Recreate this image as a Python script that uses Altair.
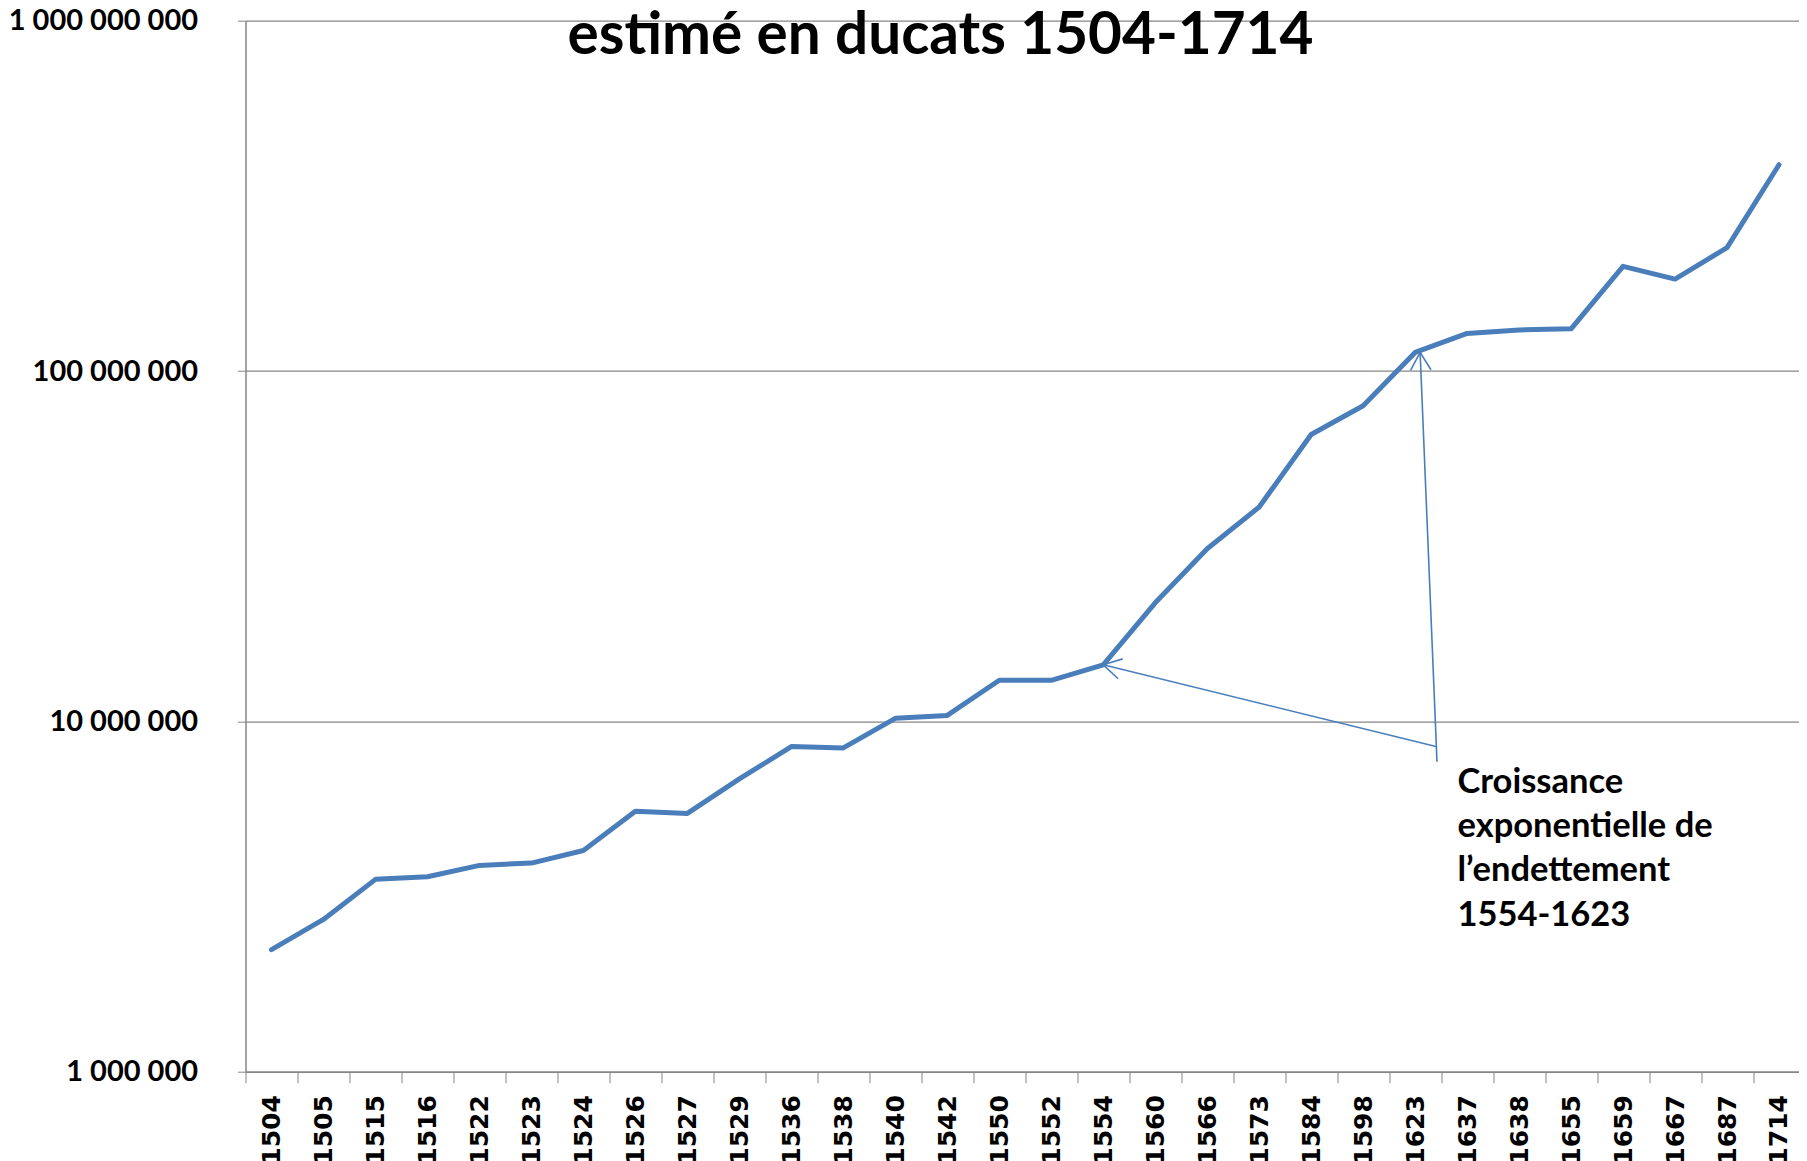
import altair as alt
import pandas as pd

years = ["1504", "1505", "1515", "1516", "1522", "1523", "1524", "1526", "1527", "1529",
         "1536", "1538", "1540", "1542", "1550", "1552", "1554", "1560", "1566", "1573",
         "1584", "1598", "1623", "1637", "1638", "1655", "1659", "1667", "1687", "1714"]
debt = [2.23e6, 2.72e6, 3.54e6, 3.60e6, 3.88e6, 3.94e6, 4.28e6, 5.54e6, 5.46e6, 6.85e6,
        8.47e6, 8.40e6, 10.2e6, 10.4e6, 13.1e6, 13.1e6, 14.5e6, 21.8e6, 31.1e6, 40.9e6,
        65.9e6, 79.6e6, 113e6, 128e6, 131e6, 132e6, 199e6, 183e6, 225e6, 388e6]
y_ticks = [1e6, 1e7, 1e8, 1e9]
title_text = ["estimé en ducats 1504-1714"]
note_text = ["Croissance\nexponentielle de\nl\u2019endettement\n1554-1623"]
arrow_years = ["1554", "1623"]
arrow_values = [14.5e6, 113e6]

BLUE = "#4A7EBB"
GRAY = "#868686"

df = pd.DataFrame({"year": years, "debt": debt})
arr = pd.DataFrame({"year": arrow_years, "debt": arrow_values})

xscale = alt.Scale(type="band", paddingInner=0, paddingOuter=0, range=[0, 1559.5])
yscale = alt.Scale(type="log", domain=[1e6, 1e9])

x_enc = alt.X("year:N", sort=years, bandPosition=0.5, scale=xscale,
              axis=alt.Axis(title=None, labelAngle=270, tickBand="extent",
                            labelFont="DejaVu Sans", labelFontWeight="bold",
                            labelFontSize=25, labelColor="black", labelPadding=12,
                            tickSize=11, tickColor=GRAY, domainColor=GRAY,
                            domainWidth=1.5, grid=False, labelLimit=0))
y_enc = alt.Y("debt:Q", scale=yscale,
              axis=alt.Axis(title=None, values=y_ticks, grid=True, gridColor=GRAY,
                            gridWidth=1.2, domainColor=GRAY, domainWidth=1.5,
                            tickColor=GRAY, tickSize=8, labelPadding=40, labelLimit=0,
                            labelFont="Lato", labelFontWeight="bold", labelFontSize=29,
                            labelColor="black",
                            labelExpr="datum.value >= 1e9 ? '1 000 000 000' : datum.value >= 1e8 ? '100 000 000' : datum.value >= 1e7 ? '10 000 000' : '1 000 000'"))

line = alt.Chart(df).mark_line(color=BLUE, strokeWidth=5, strokeCap="round",
                               strokeJoin="round").encode(x=x_enc, y=y_enc)

def xpos():
    return alt.X("year:N", sort=years, bandPosition=0.5, scale=xscale)

def ypos():
    return alt.Y("debt:Q", scale=yscale)

rule1 = alt.Chart(arr.iloc[[0]]).mark_rule(color=BLUE, strokeWidth=1.6).encode(
    x=xpos(), y=ypos(), x2=alt.value(1191.5), y2=alt.value(726))
rule2 = alt.Chart(arr.iloc[[1]]).mark_rule(color=BLUE, strokeWidth=1.6, xOffset=5).encode(
    x=xpos(), y=ypos(), x2=alt.value(1191.5), y2=alt.value(741))

head_shape = "M -1 -0.577 L 0 0 L -1 0.577"
head1 = alt.Chart(arr.iloc[[0]]).mark_point(shape=head_shape, filled=False, size=1250,
                                             strokeWidth=1.6, color=BLUE, opacity=1).encode(
    x=xpos(), y=ypos(), angle=alt.value(193))
head2 = alt.Chart(arr.iloc[[1]]).mark_point(shape=head_shape, filled=False, size=1250,
                                             strokeWidth=1.6, color=BLUE, opacity=1,
                                             xOffset=5).encode(
    x=xpos(), y=ypos(), angle=alt.value(268))

title = alt.Chart(pd.DataFrame({"t": title_text})).mark_text(
    font="Lato", fontWeight="bold", fontSize=58.5, color="black", align="center",
    baseline="alphabetic").encode(text="t:N", x=alt.value(695), y=alt.value(33))

note = alt.Chart(pd.DataFrame({"t": note_text})).mark_text(
    font="Lato", fontWeight="bold", fontSize=34.5, color="black", align="left",
    baseline="alphabetic", lineBreak="\n", lineHeight=44.3).encode(
    text="t:N", x=alt.value(1212), y=alt.value(772))

chart = alt.layer(line, rule1, rule2, head1, head2, title, note).properties(
    width=1553, height=1051,
    autosize=alt.AutoSizeParams(type="none"),
    padding={"left": 237.5, "top": 12.7, "right": 0, "bottom": 89},
).configure_view(stroke=None)

chart.save("out.html", embed_options={"renderer": "svg", "actions": False})
